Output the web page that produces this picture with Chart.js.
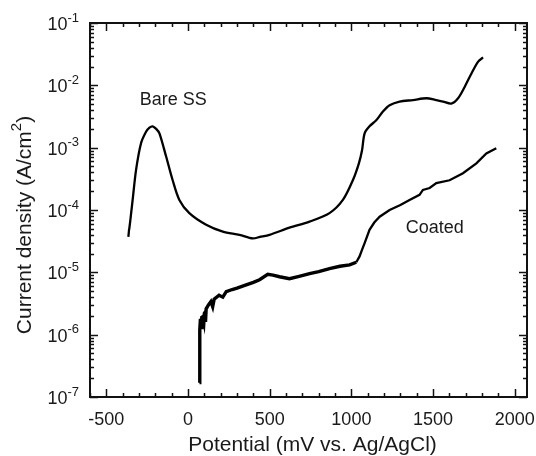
<!DOCTYPE html>
<html>
<head>
<meta charset="utf-8">
<script src="https://cdn.jsdelivr.net/npm/chart.js@4"></script>
<style>
  html, body { margin: 0; padding: 0; background: #fff; }
  #chart { display: block; }
</style>
</head>
<body>
<canvas id="chart" width="536" height="456"></canvas>
<script>
// Bare SS polarization curve (mV vs Ag/AgCl, A/cm2)
const bareE = [-365, -361, -359, -349, -339, -318, -288, -257, -236, -216, -195, -175, -134, -94, -53, 8, 111, 213, 315, 396, 440, 499, 621, 744, 866, 948, 1009, 1045, 1065, 1081, 1111, 1152, 1193, 1234, 1295, 1377, 1459, 1520, 1561, 1612, 1653, 1694, 1735, 1776, 1806];
const bareI = [3.7e-5, 4.8e-5, 5.1e-5, 8.5e-5, 1.45e-4, 4.4e-4, 1.17e-3, 1.8e-3, 2.1e-3, 2.2e-3, 2.0e-3, 1.7e-3, 7.2e-4, 3.0e-4, 1.45e-4, 8.9e-5, 5.8e-5, 4.5e-5, 4.0e-5, 3.5e-5, 3.7e-5, 4.0e-5, 5.2e-5, 6.5e-5, 8.9e-5, 1.45e-4, 3.0e-4, 5.5e-4, 9.0e-4, 1.7e-3, 2.2e-3, 2.75e-3, 3.8e-3, 4.8e-3, 5.5e-3, 5.8e-3, 6.2e-3, 5.8e-3, 5.5e-3, 5.1e-3, 6.2e-3, 9.5e-3, 1.55e-2, 2.4e-2, 2.8e-2];

// Coated polarization curve (noisy at low potentials)
const coatedE = [70, 71, 73, 76, 80, 84, 90, 97, 100, 105, 107, 111, 125, 140, 151, 160, 190, 213, 234, 270, 300, 356, 400, 438, 488, 520, 560, 621, 680, 744, 800, 866, 930, 989, 1030, 1050, 1065, 1081, 1111, 1140, 1173, 1234, 1300, 1356, 1417, 1438, 1479, 1520, 1601, 1683, 1765, 1826, 1887];
const coatedI = [1.7e-7, 6e-7, 1.2e-6, 1.8e-6, 1.3e-6, 1.9e-6, 1.95e-6, 1.6e-6, 2.2e-6, 2.3e-6, 1.6e-6, 2.6e-6, 3.0e-6, 3.4e-6, 2.8e-6, 3.7e-6, 4.3e-6, 4.0e-6, 4.9e-6, 5.3e-6, 5.6e-6, 6.3e-6, 6.9e-6, 7.6e-6, 9.3e-6, 9.0e-6, 8.5e-6, 7.9e-6, 8.6e-6, 9.5e-6, 1.03e-5, 1.15e-5, 1.25e-5, 1.32e-5, 1.45e-5, 1.8e-5, 2.3e-5, 2.95e-5, 4.8e-5, 6.3e-5, 7.8e-5, 1.0e-4, 1.2e-4, 1.45e-4, 1.75e-4, 2.1e-4, 2.25e-4, 2.7e-4, 3.0e-4, 3.9e-4, 5.6e-4, 8.1e-4, 9.8e-4];

// axis ticks
const xTickValues = [-500, 0, 500, 1000, 1500, 2000];
const yTickExponents = [-7, -6, -5, -4, -3, -2, -1];

const textColor = '#1a1a1a';
const fontName = '"Liberation Sans", Arial, sans-serif';

function toPoints(xs, ys) {
    return xs.map((v, i) => ({ x: v, y: ys[i] }));
}

// draws frame, inward ticks, labels and annotations
const axesPlugin = {
    id: 'axesPlugin',
    afterDraw(chart) {
        const { ctx, chartArea: a, scales: { x, y } } = chart;
        ctx.save();
        ctx.strokeStyle = '#111';
        ctx.fillStyle = textColor;

        const seg = (x1, y1, x2, y2) => {
            ctx.beginPath();
            ctx.moveTo(x1, y1);
            ctx.lineTo(x2, y2);
            ctx.stroke();
        };

        // x ticks (bottom and top)
        ctx.lineWidth = 1.5;
        for (let v = -600; v <= 2000; v += 100) {
            const px = Math.round(x.getPixelForValue(v)) + 0.5;
            const len = v % 500 === 0 ? 8 : 4;
            seg(px, a.bottom, px, a.bottom - len);
            seg(px, a.top, px, a.top + len);
        }

        // y ticks (left and right)
        yTickExponents.forEach(e => {
            for (let m = 1; m <= 9; m++) {
                const v = m * Math.pow(10, e);
                if (v > 0.1 * 1.0001) break;
                const py = Math.round(y.getPixelForValue(v)) + 0.5;
                const len = m === 1 ? 8 : 4;
                seg(a.left, py, a.left + len, py);
                seg(a.right, py, a.right - len, py);
            }
        });

        // frame
        ctx.lineWidth = 2;
        ctx.strokeRect(a.left, a.top, a.right - a.left, a.bottom - a.top);

        // x tick labels
        ctx.font = '18px ' + fontName;
        ctx.textAlign = 'center';
        ctx.textBaseline = 'middle';
        xTickValues.forEach(v => {
            ctx.fillText(String(v), x.getPixelForValue(v), a.bottom + 23);
        });

        // y tick labels 10^n
        yTickExponents.forEach(e => {
            const py = y.getPixelForValue(Math.pow(10, e));
            ctx.font = '18px ' + fontName;
            const wBase = ctx.measureText('10').width;
            ctx.font = '13px ' + fontName;
            const sup = String(e);
            const wSup = ctx.measureText(sup).width;
            const startX = a.left - 11 - wBase - wSup;
            ctx.textAlign = 'left';
            ctx.font = '18px ' + fontName;
            ctx.fillText('10', startX, py + 2);
            ctx.font = '13px ' + fontName;
            ctx.fillText(sup, startX + wBase, py - 5);
        });

        // x axis title
        ctx.font = '21px ' + fontName;
        ctx.textAlign = 'center';
        ctx.fillText('Potential (mV vs. Ag/AgCl)', (a.left + a.right) / 2 + 4, a.bottom + 48);

        // y axis title with superscript
        ctx.save();
        ctx.translate(25, 225);
        ctx.rotate(-Math.PI / 2);
        const p1 = 'Current density (A/cm';
        const p2 = '2';
        const p3 = ')';
        ctx.font = '21px ' + fontName;
        const w1 = ctx.measureText(p1).width;
        const w3 = ctx.measureText(p3).width;
        ctx.font = '15px ' + fontName;
        const w2 = ctx.measureText(p2).width;
        let sx = -(w1 + w2 + w3) / 2;
        ctx.textAlign = 'left';
        ctx.font = '21px ' + fontName;
        ctx.fillText(p1, sx, 0);
        ctx.font = '15px ' + fontName;
        ctx.fillText(p2, sx + w1, -8);
        ctx.font = '21px ' + fontName;
        ctx.fillText(p3, sx + w1 + w2, 0);
        ctx.restore();

        // curve labels
        ctx.font = '18px ' + fontName;
        ctx.textAlign = 'center';
        ctx.fillText('Bare SS', x.getPixelForValue(-90), y.getPixelForValue(5.8e-3));
        ctx.fillText('Coated', x.getPixelForValue(1510), y.getPixelForValue(5.1e-5));

        ctx.restore();
    }
};

const chartConfig = {
    type: 'line',
    data: {
        datasets: [{
            label: 'Bare SS',
            data: toPoints(bareE, bareI),
            borderColor: '#000',
            borderWidth: 2.3,
            pointRadius: 0,
            tension: 0.3,
            fill: false
        }, {
            label: 'Coated',
            data: toPoints(coatedE, coatedI),
            borderColor: '#000',
            borderWidth: 2.3,
            pointRadius: 0,
            tension: 0,
            fill: false,
            segment: {
                // noisy part of the scan looks thicker
                borderWidth: c => (c.p0.parsed.x < 1000 ? 3.4 : 2.3)
            }
        }]
    },
    options: {
        responsive: false,
        animation: false,
        layout: {
            padding: { left: 90, top: 23, right: 9, bottom: 59 }
        },
        plugins: {
            legend: { display: false },
            tooltip: { enabled: false }
        },
        scales: {
            x: {
                type: 'linear',
                min: -600,
                max: 2075,
                display: false
            },
            y: {
                type: 'logarithmic',
                min: 1e-7,
                max: 1e-1,
                display: false
            }
        }
    },
    plugins: [axesPlugin]
};

const chart = new Chart(document.getElementById('chart'), chartConfig);
</script>
</body>
</html>
